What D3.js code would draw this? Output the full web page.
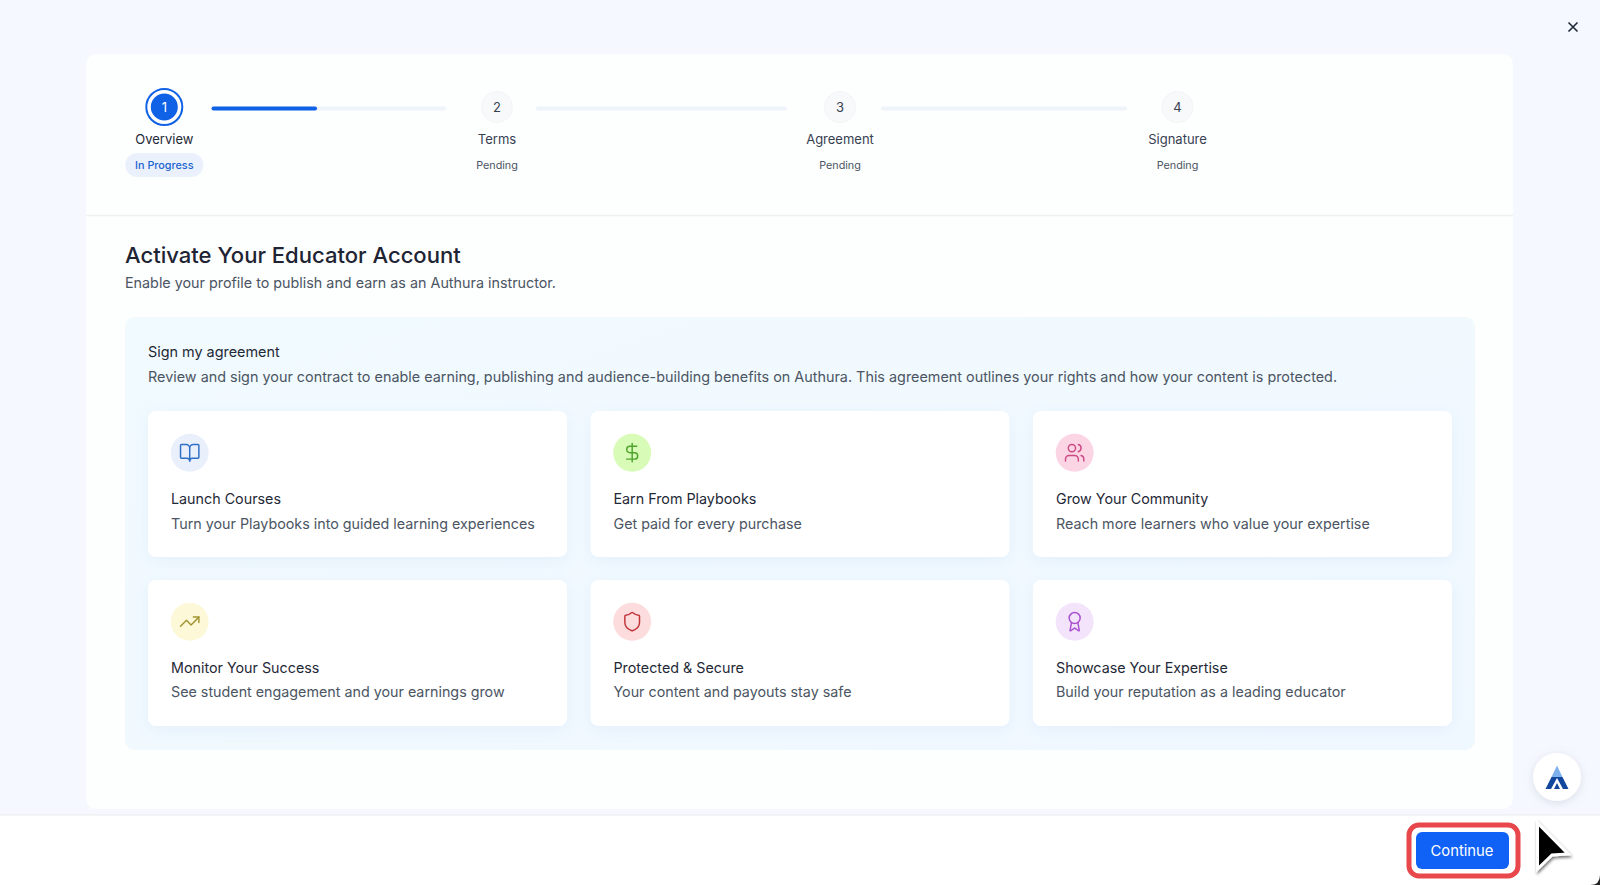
<!DOCTYPE html>
<html>
<head>
<meta charset="utf-8">
<script src="https://cdn.jsdelivr.net/npm/d3@7"></script>
<style>
  html, body { margin: 0; padding: 0; background: #f5f8fe; overflow: hidden; }
  svg { display: block; font-family: Inter, "Noto Sans", sans-serif; }
</style>
</head>
<body>
<div id="chart"></div>
<script>
// step tracker
const stepNames = ['Overview', 'Terms', 'Agreement', 'Signature'];
const stepStates = ['In Progress', 'Pending', 'Pending', 'Pending'];
const stepProgress = [0.45, 0, 0, 0];

// cards
const cardTitles = ['Launch Courses', 'Earn From Playbooks', 'Grow Your Community',
  'Monitor Your Success', 'Protected & Secure', 'Showcase Your Expertise'];
const cardTexts = ['Turn your Playbooks into guided learning experiences', 'Get paid for every purchase',
  'Reach more learners who value your expertise', 'See student engagement and your earnings grow',
  'Your content and payouts stay safe', 'Build your reputation as a leading educator'];
const cardIcons = ['book', 'dollar', 'users', 'trend', 'shield', 'award'];
const iconInk = ['#2f6fc6', '#4fa52c', '#cc4a86', '#a39632', '#c4323a', '#a94fd0'];
const iconWash = ['#eaf0fb', '#d8fbb8', '#fcd5e4', '#fdf8d8', '#fcdcdc', '#f3e4fb'];

const width = 1600;
const height = 885;

const iconPaths = {
  book: ['M12 7v14', 'M3 18a1 1 0 0 1-1-1V4a1 1 0 0 1 1-1h5a4 4 0 0 1 4 4 4 4 0 0 1 4-4h5a1 1 0 0 1 1 1v13a1 1 0 0 1-1 1h-6a3 3 0 0 0-3 3 3 3 0 0 0-3-3z'],
  dollar: ['M12 2v20', 'M17 5H9.5a3.5 3.5 0 0 0 0 7h5a3.5 3.5 0 0 1 0 7H6'],
  users: ['M16 21v-2a4 4 0 0 0-4-4H6a4 4 0 0 0-4 4v2', 'M13 7a4 4 0 1 1-8 0a4 4 0 1 1 8 0', 'M22 21v-2a4 4 0 0 0-3-3.87', 'M16 3.13a4 4 0 0 1 0 7.75'],
  trend: ['M22 7 13.5 15.5 8.5 10.5 2 17', 'M16 7h6v6'],
  shield: ['M20 13c0 5-3.5 7.5-7.66 8.95a1 1 0 0 1-.67-.01C7.5 20.5 4 18 4 13V6a1 1 0 0 1 1-1c2 0 4.5-1.2 6.24-2.72a1.17 1.17 0 0 1 1.52 0C14.51 3.81 17 5 19 5a1 1 0 0 1 1 1z'],
  award: ['m15.477 12.89 1.515 8.526a.5.5 0 0 1-.81.47l-3.58-2.687a1 1 0 0 0-1.197 0l-3.586 2.686a.5.5 0 0 1-.81-.469l1.514-8.526', 'M18 8a6 6 0 1 1-12 0a6 6 0 1 1 12 0'],
};

const svg = d3.select('#chart').append('svg').attr('width', width).attr('height', height);

const defs = svg.append('defs');
const panelFill = defs.append('linearGradient').attr('id', 'panelFill')
  .attr('x1', 0).attr('y1', 0).attr('x2', 1).attr('y2', 1);
panelFill.append('stop').attr('offset', 0).attr('stop-color', '#f1fafe');
panelFill.append('stop').attr('offset', 1).attr('stop-color', '#f0f8ff');

const cardShadow = defs.append('filter').attr('id', 'cardShadow')
  .attr('x', '-10%').attr('y', '-15%').attr('width', '120%').attr('height', '135%');
cardShadow.append('feDropShadow').attr('dx', 0).attr('dy', 4).attr('stdDeviation', 8)
  .attr('flood-color', '#d4e4f8').attr('flood-opacity', 0.45);

const softShadow = defs.append('filter').attr('id', 'softShadow')
  .attr('x', '-40%').attr('y', '-40%').attr('width', '180%').attr('height', '180%');
softShadow.append('feDropShadow').attr('dx', 0).attr('dy', 2).attr('stdDeviation', 4)
  .attr('flood-color', '#8a94a8').attr('flood-opacity', 0.25);

const cursorShadow = defs.append('filter').attr('id', 'cursorShadow')
  .attr('x', '-40%').attr('y', '-40%').attr('width', '180%').attr('height', '180%');
cursorShadow.append('feDropShadow').attr('dx', 1).attr('dy', 2).attr('stdDeviation', 1.5)
  .attr('flood-color', '#000').attr('flood-opacity', 0.55);

// page and main panel
svg.append('rect').attr('width', width).attr('height', height).attr('fill', '#f5f8fe');
svg.append('rect').attr('x', 86).attr('y', 54).attr('width', 1427).attr('height', 755)
  .attr('rx', 10).attr('fill', '#fdfefe');

// close button
svg.append('path').attr('d', 'M1568.5 22.5 L1577.5 31.5 M1577.5 22.5 L1568.5 31.5')
  .attr('stroke', '#1f2937').attr('stroke-width', 1.6).attr('fill', 'none');

// stepper
const stepX = d3.scaleOrdinal().domain(stepNames).range([164.3, 497, 840, 1177.5]);
const connectorStart = [211.5, 536, 881];
const connectorEnd = [446, 787, 1127];
const stepY = 107;

connectorStart.forEach((x0, i) => {
  const progressX = d3.scaleLinear().domain([0, 1]).range([x0, connectorEnd[i]]);
  svg.append('rect').attr('x', x0).attr('y', stepY - 0.5).attr('width', progressX(1) - x0).attr('height', 4)
    .attr('rx', 2).attr('fill', '#eff3fa');
  if (stepProgress[i] > 0) {
    svg.append('rect').attr('x', x0).attr('y', stepY - 0.5).attr('width', progressX(stepProgress[i]) - x0).attr('height', 4)
      .attr('rx', 2).attr('fill', '#0f62e6');
  }
});

stepNames.forEach((name, i) => {
  const g = svg.append('g').attr('transform', `translate(${stepX(name)},0)`);
  if (i === 0) {
    g.append('circle').attr('cy', stepY).attr('r', 18).attr('fill', '#fff')
      .attr('stroke', '#0f62e6').attr('stroke-width', 2);
    g.append('circle').attr('cy', stepY).attr('r', 13.5).attr('fill', '#0f62e6');
  } else {
    g.append('circle').attr('cy', stepY).attr('r', 15.5).attr('fill', '#f8f9fa').attr('stroke', '#f3f5f7');
  }
  g.append('text').attr('y', stepY + 5).attr('text-anchor', 'middle')
    .attr('font-size', 13).attr('font-weight', 400)
    .attr('fill', i === 0 ? '#fff' : '#374151').text(i + 1);
  g.append('text').attr('y', 144).attr('text-anchor', 'middle')
    .attr('font-size', 13).attr('font-weight', 400)
    .attr('fill', i === 0 ? '#1f2937' : '#374151').text(name);
  if (i === 0) {
    g.append('rect').attr('x', -39).attr('y', 153).attr('width', 78).attr('height', 24).attr('rx', 12)
      .attr('fill', '#eaf1fc');
  }
  g.append('text').attr('y', 169).attr('text-anchor', 'middle')
    .attr('font-size', 10.8).attr('font-weight', i === 0 ? 500 : 400)
    .attr('fill', i === 0 ? '#1b63cf' : '#4b5563').text(stepStates[i]);
});

svg.append('line').attr('x1', 86).attr('x2', 1513).attr('y1', 215.5).attr('y2', 215.5)
  .attr('stroke', '#f0f1f4').attr('stroke-width', 1.5);

// heading
svg.append('text').attr('x', 125).attr('y', 263).attr('font-size', 22.05).attr('font-weight', 500)
  .attr('fill', '#1e2433').text('Activate Your Educator Account');
svg.append('text').attr('x', 125).attr('y', 288).attr('font-size', 14.33)
  .attr('fill', '#4b5563').text('Enable your profile to publish and earn as an Authura instructor.');

// agreement panel
svg.append('rect').attr('x', 125).attr('y', 317).attr('width', 1350).attr('height', 433)
  .attr('rx', 10).attr('fill', 'url(#panelFill)');
svg.append('text').attr('x', 148).attr('y', 357).attr('font-size', 14.4).attr('font-weight', 400)
  .attr('fill', '#1f2937').text('Sign my agreement');
svg.append('text').attr('x', 148).attr('y', 381.5).attr('font-size', 14.38)
  .attr('fill', '#4b5563')
  .text('Review and sign your contract to enable earning, publishing and audience-building benefits on Authura. This agreement outlines your rights and how your content is protected.');

const colX = d3.scaleBand().domain(d3.range(3)).range([148, 1452]).paddingInner(0.053);
const rowY = d3.scaleBand().domain(d3.range(2)).range([411, 726]).paddingInner(0.136);

const cards = svg.selectAll('.card').data(cardTitles).enter().append('g')
  .attr('class', 'card')
  .attr('transform', (d, i) => `translate(${colX(i % 3)},${rowY(Math.floor(i / 3))})`);

cards.append('rect').attr('width', colX.bandwidth()).attr('height', rowY.bandwidth())
  .attr('rx', 8).attr('fill', '#fff').attr('filter', 'url(#cardShadow)');
cards.append('circle').attr('cx', 41.7).attr('cy', 41.7).attr('r', 19)
  .attr('fill', (d, i) => iconWash[i]);
cards.each(function (d, i) {
  const icon = d3.select(this).append('g').attr('transform', 'translate(30.7,30.7) scale(0.9167)')
    .attr('fill', 'none').attr('stroke', iconInk[i]).attr('stroke-width', 1.6)
    .attr('stroke-linecap', 'round').attr('stroke-linejoin', 'round');
  iconPaths[cardIcons[i]].forEach((p) => icon.append('path').attr('d', p));
});
cards.append('text').attr('x', 23).attr('y', 93).attr('font-size', 14.3).attr('font-weight', 400)
  .attr('fill', '#1f2937').text((d) => d);
cards.append('text').attr('x', 23).attr('y', 117.5).attr('font-size', 14.3)
  .attr('fill', '#4b5563').text((d, i) => cardTexts[i]);

// footer
svg.append('rect').attr('x', 0).attr('y', 815).attr('width', width).attr('height', 70).attr('fill', '#fff');
svg.append('line').attr('x1', 0).attr('x2', width).attr('y1', 815).attr('y2', 815)
  .attr('stroke', '#e9ebef');

// button with the red callout round it
svg.append('rect').attr('x', 1409).attr('y', 825).attr('width', 109).attr('height', 51).attr('rx', 10)
  .attr('fill', '#fff').attr('stroke', '#e8474c').attr('stroke-width', 5);
svg.append('rect').attr('x', 1416).attr('y', 832).attr('width', 93).attr('height', 37).attr('rx', 6)
  .attr('fill', '#0f62f5');
svg.append('text').attr('x', 1462).attr('y', 856).attr('text-anchor', 'middle')
  .attr('font-size', 14.8).attr('font-weight', 400).attr('fill', '#fff').text('Continue');

// floating logo
svg.append('circle').attr('cx', 1557).attr('cy', 777).attr('r', 24).attr('fill', '#fff')
  .attr('filter', 'url(#softShadow)');
svg.append('path').attr('d', 'M1557 765.5 L1562.5 777 L1551.5 777 Z').attr('fill', '#7fb0ee');
svg.append('path').attr('d', 'M1551.5 777 L1562.5 777 L1568.5 789 L1563 789 L1557 778 L1551 789 L1545.5 789 Z').attr('fill', '#12479e');
svg.append('path').attr('d', 'M1557 783 L1560 789 L1554 789 Z').attr('fill', '#12479e');

// mouse pointer
svg.append('path').attr('d', 'M1537.5 823 L1568 854 L1552 855 L1537.5 869 Z')
  .attr('fill', '#000').attr('stroke', '#fff').attr('stroke-width', 3).attr('stroke-linejoin', 'miter')
  .attr('filter', 'url(#cursorShadow)');

// window corner
svg.append('path').attr('d', 'M1600 875 L1600 885 L1590 885 Q1600 885 1600 875 Z').attr('fill', '#222');
</script>
</body>
</html>
